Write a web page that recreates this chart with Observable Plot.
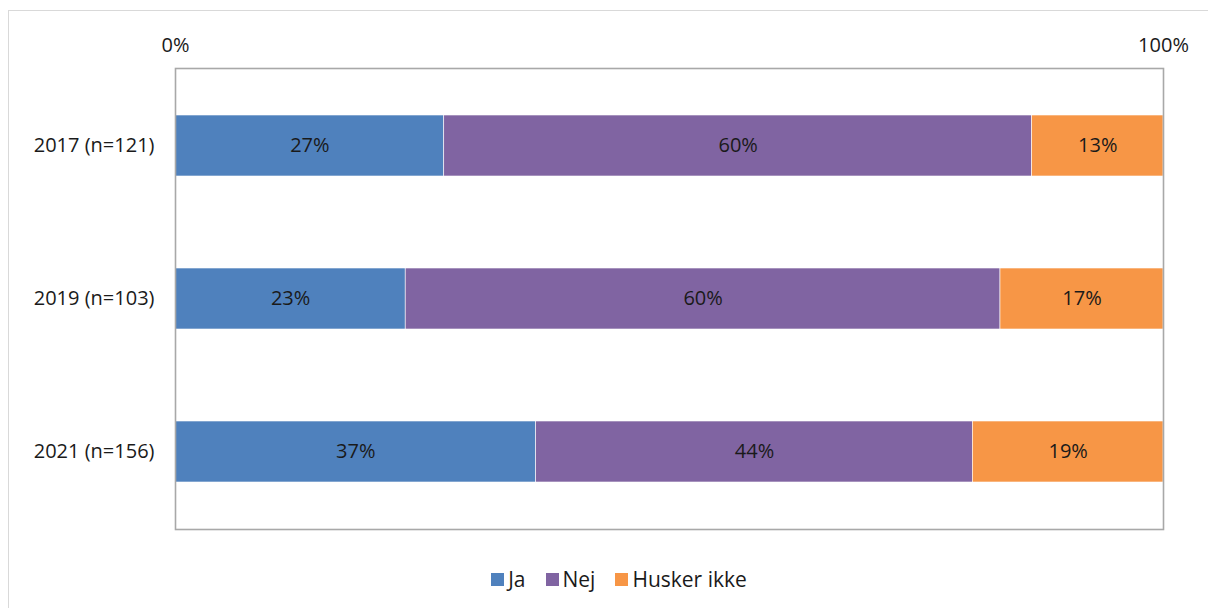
<!DOCTYPE html>
<html>
<head>
<meta charset="utf-8">
<script src="https://cdn.jsdelivr.net/npm/d3@7"></script>
<script src="https://cdn.jsdelivr.net/npm/@observablehq/plot@0.6"></script>
<style>
  html, body { margin: 0; padding: 0; background: #fff; width: 1208px; height: 608px; overflow: hidden; }
  #box { position: absolute; left: 8px; top: 10px; width: 1210px; height: 620px; border: 1px solid #d9d9d9; box-sizing: border-box; font-family: "Open Sans", sans-serif; }
  #chart { position: absolute; left: 0; top: 0; }
  #legend { position: absolute; top: 554px; left: 0; width: 1220px; display: flex; justify-content: center; gap: 20px; font-size: 21px; color: #1a1a1a; }
  #legend span.item { display: flex; align-items: center; }
  #legend span.sw { display: inline-block; width: 13px; height: 13px; margin-right: 4px; }
</style>
</head>
<body>
<div id="box">
  <div id="chart"></div>
  <div id="legend"></div>
</div>
<script>
const years = ["2017 (n=121)", "2019 (n=103)", "2021 (n=156)"];
const answers = ["Ja", "Nej", "Husker ikke"];
const colors = ["#4f81bd", "#8064a2", "#f79646"];
const ja = [27.2, 23.3, 36.5];
const nej = [59.5, 60.2, 44.2];
const husker = [13.3, 16.5, 19.3];
const xTicks = [0, 100];

const series = [ja, nej, husker];
const data = [];
years.forEach((y, i) => {
  answers.forEach((a, j) => data.push({year: y, answer: a, value: series[j][i]}));
});

const chart = Plot.plot({
  width: 1200,
  height: 545,
  marginLeft: 166,
  marginTop: 57,
  marginRight: 46,
  marginBottom: 27,
  style: {fontFamily: "'Open Sans', sans-serif", fontSize: "20px", color: "#1a1a1a", background: "transparent"},
  x: {domain: [0, 100], axis: null, label: null},
  y: {domain: years, paddingInner: 0.6, paddingOuter: 0.3, axis: null, label: null},
  color: {domain: answers, range: colors},
  marks: [
    Plot.barX(data, Plot.stackX({x: "value", y: "year", z: "answer", fill: "answer", stroke: "#ffffff", strokeWidth: 0.6, inset: 0})),
    Plot.text(data, Plot.stackX({x: "value", y: "year", z: "answer", text: d => Math.round(d.value) + "%", fill: "#1a1a1a", fontSize: 20})),
    Plot.axisX(xTicks, {anchor: "top", label: null, tickSize: 0, tickPadding: 17, tickFormat: d => d + "%", fontSize: 20, fill: "#1a1a1a"}),
    Plot.axisY({anchor: "left", label: null, tickSize: 0, tickPadding: 21, fontSize: 20, fill: "#1a1a1a"}),
    Plot.frame({stroke: "#a8a8a8", strokeWidth: 1.6})
  ]
});
document.getElementById("chart").appendChild(chart);

const legend = document.getElementById("legend");
answers.forEach((a, i) => {
  const item = document.createElement("span");
  item.className = "item";
  const sw = document.createElement("span");
  sw.className = "sw";
  sw.style.background = colors[i];
  item.appendChild(sw);
  item.appendChild(document.createTextNode(a));
  legend.appendChild(item);
});
</script>
</body>
</html>
